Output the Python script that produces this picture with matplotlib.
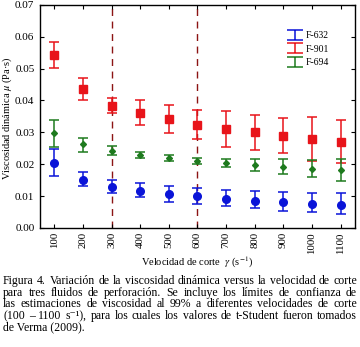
import numpy as np
import matplotlib
matplotlib.use("Agg")
import matplotlib.pyplot as plt
from matplotlib.path import Path
from matplotlib.lines import Line2D

plt.rcParams['font.family'] = ['Liberation Serif', 'DejaVu Serif']
plt.rcParams['mathtext.fontset'] = 'stix'

# shear rates (s^-1)
rates = ['100', '200', '300', '400', '500', '600', '700', '800', '900', '1000', '1100']

# F-632 (blue): mean, lower, upper limits (Pa·s)
f632 = [0.0203, 0.0151, 0.0130, 0.0115, 0.0107, 0.0100, 0.0091, 0.0086, 0.0081, 0.0076, 0.0073]
f632_lo = [0.0163, 0.0131, 0.0111, 0.0097, 0.0081, 0.0075, 0.0069, 0.0063, 0.0054, 0.0050, 0.0044]
f632_hi = [0.0247, 0.0175, 0.0152, 0.0140, 0.0131, 0.0124, 0.0119, 0.0115, 0.0112, 0.0109, 0.0109]

# F-901 (red)
f901 = [0.0543, 0.0435, 0.0382, 0.0361, 0.0341, 0.0322, 0.0310, 0.0300, 0.0288, 0.0278, 0.0269]
f901_lo = [0.0503, 0.0400, 0.0360, 0.0323, 0.0298, 0.0278, 0.0254, 0.0244, 0.0234, 0.0210, 0.0204]
f901_hi = [0.0582, 0.0469, 0.0407, 0.0401, 0.0385, 0.0369, 0.0366, 0.0354, 0.0344, 0.0347, 0.0338]

# F-694 (green)
f694 = [0.0298, 0.0262, 0.0241, 0.0228, 0.0218, 0.0209, 0.0205, 0.0197, 0.0191, 0.0186, 0.0181]
f694_lo = [0.0255, 0.0238, 0.0228, 0.0220, 0.0211, 0.0201, 0.0191, 0.0178, 0.0170, 0.0159, 0.0146]
f694_hi = [0.0338, 0.0283, 0.0257, 0.0237, 0.0228, 0.0218, 0.0216, 0.0216, 0.0216, 0.0212, 0.0215]

dashed_at = ['300', '600']

caption = [
    "Figura 4. Variación de la viscosidad dinámica versus la velocidad de corte",
    "para tres fluidos de perforación. Se incluye los límites de confianza de",
    "las estimaciones de viscosidad al 99% a diferentes velocidades de corte",
    "(100 – 1100 s⁻¹), para los cuales los valores de t-Student fueron tomados",
    "de Verma (2009).",
]

fig = plt.figure(figsize=(3.6, 3.47), dpi=100)
ax = fig.add_axes([0.111, 0.343, 0.875, 0.643])

x = np.arange(len(rates))

series = [
    (f632, f632_lo, f632_hi, '#0a14d8', 'o', 5.5, 'F-632'),
    (f901, f901_lo, f901_hi, '#e8141a', 's', 5.5, 'F-901'),
    (f694, f694_lo, f694_hi, '#1e7a1e', 'D', 3.0, 'F-694'),
]
for mean, lo, hi, col, mk, ms, _ in series:
    mean = np.array(mean)
    yerr = [mean - np.array(lo), np.array(hi) - mean]
    ax.errorbar(x, mean, yerr=yerr, fmt=mk, color=col, ms=ms, capsize=3.8,
                elinewidth=1.1, capthick=1.1, zorder=3)

for r in dashed_at:
    ax.axvline(rates.index(r), color='#8c1414', ls=(0, (5, 4)), lw=1.0, zorder=1)

# legend: I-beam shaped error bar symbol
ibeam = Path([(-1, 0.65), (1, 0.65), (0, 0.65), (0, -0.65), (-1, -0.65), (1, -0.65)],
             [Path.MOVETO, Path.LINETO, Path.MOVETO, Path.LINETO, Path.MOVETO, Path.LINETO])
handles = [Line2D([], [], ls='none', marker=ibeam, ms=12, mew=1.1, mec=s[3],
                  mfc='none') for s in series]
ax.legend(handles, [s[6] for s in series], loc='upper left',
          bbox_to_anchor=(0.76, 0.92), frameon=False, fontsize=7,
          handlelength=1.5, handletextpad=0.35, labelspacing=0.45)

ax.set_xlim(-0.5, len(rates) - 0.5)
ax.set_ylim(0, 0.07)
ax.set_xticks(x)
ax.set_xticklabels(rates, rotation=90, fontsize=7.8)
yt = np.arange(0, 0.071, 0.01)
ax.set_yticks(yt)
ax.set_yticklabels([f"{v:.2f}" for v in yt], fontsize=8)
ax.tick_params(direction='in', top=True, right=True, length=3, width=0.8, pad=3)
ax.tick_params(axis='y', pad=4)
for s in ax.spines.values():
    s.set_linewidth(1.0)

ax.set_ylabel(r"Viscosidad dinámica $\mu$ (Pa·s)", fontsize=7.5)
ax.yaxis.set_label_coords(-0.082, 0.49)
ax.set_xlabel(r"Velocidad de corte  $\gamma$ (s$^{-1}$)", fontsize=7.5, labelpad=1)

# justified caption
fig.canvas.draw()
renderer = fig.canvas.get_renderer()
left, right = 3 / 360, 357 / 360
y0 = 1 - 281 / 347
dy = 11.6 / 347
cap_fs = 8.5
for i, line in enumerate(caption):
    yy = y0 - i * dy
    words = line.split(' ')
    if i == len(caption) - 1:
        fig.text(left, yy, line, fontsize=cap_fs, va='center', ha='left')
        continue
    texts = [fig.text(0, yy, w, fontsize=cap_fs, va='center', ha='left') for w in words]
    widths = [t.get_window_extent(renderer).width / fig.bbox.width for t in texts]
    gap = (right - left - sum(widths)) / (len(words) - 1)
    pos = left
    for t, w in zip(texts, widths):
        t.set_x(pos)
        pos += w + gap

fig.savefig("out.png", dpi=100)
